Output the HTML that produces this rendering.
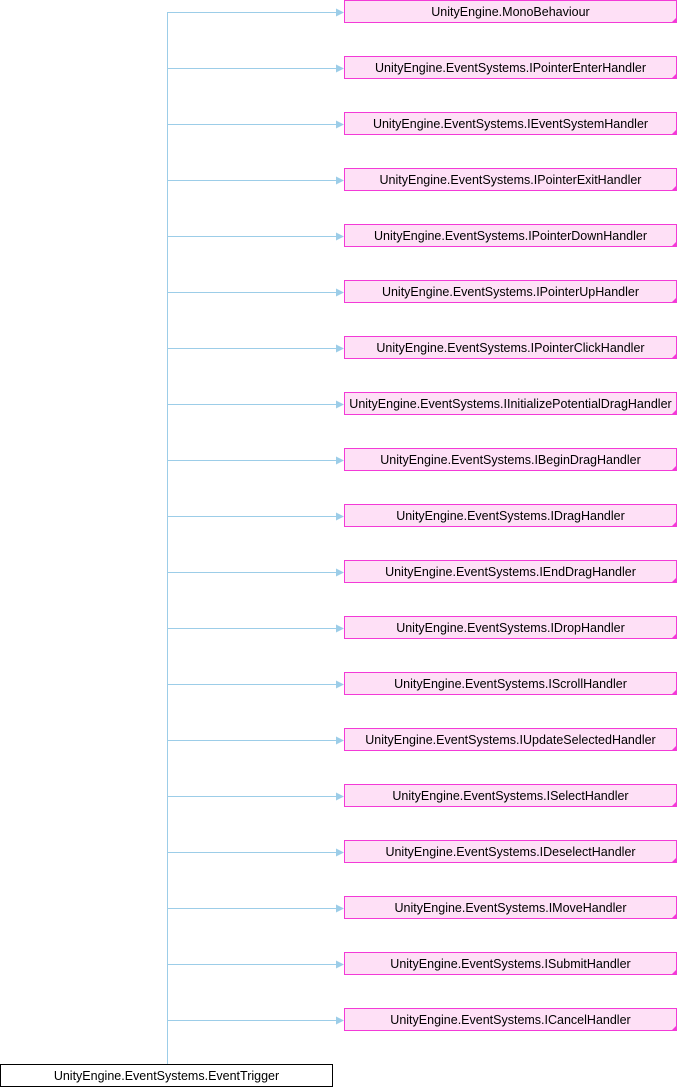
<!DOCTYPE html>
<html><head><meta charset="utf-8"><style>
html,body{margin:0;padding:0;background:#fff;overflow:hidden;}
svg{display:block;}
svg text{font-family:"Liberation Sans",sans-serif;font-size:12.5px;}
</style></head><body>
<svg width="678" height="1088" xmlns="http://www.w3.org/2000/svg">
<line x1="167.5" y1="12" x2="167.5" y2="1064" stroke="#9ccde8" stroke-width="1"/>
<g id="boxes"></g>
<rect x="0.5" y="1064.5" width="332" height="22" fill="#fff" stroke="#000"/>
<text x="166.5" y="1080" text-anchor="middle">UnityEngine.EventSystems.EventTrigger</text>
</svg>
<script>
var names=["UnityEngine.MonoBehaviour","UnityEngine.EventSystems.IPointerEnterHandler","UnityEngine.EventSystems.IEventSystemHandler","UnityEngine.EventSystems.IPointerExitHandler","UnityEngine.EventSystems.IPointerDownHandler","UnityEngine.EventSystems.IPointerUpHandler","UnityEngine.EventSystems.IPointerClickHandler","UnityEngine.EventSystems.IInitializePotentialDragHandler","UnityEngine.EventSystems.IBeginDragHandler","UnityEngine.EventSystems.IDragHandler","UnityEngine.EventSystems.IEndDragHandler","UnityEngine.EventSystems.IDropHandler","UnityEngine.EventSystems.IScrollHandler","UnityEngine.EventSystems.IUpdateSelectedHandler","UnityEngine.EventSystems.ISelectHandler","UnityEngine.EventSystems.IDeselectHandler","UnityEngine.EventSystems.IMoveHandler","UnityEngine.EventSystems.ISubmitHandler","UnityEngine.EventSystems.ICancelHandler"];
var g=document.getElementById("boxes"),s="";
names.forEach(function(n,i){var t=56*i;
s+='<line x1="167.5" y1="'+(t+12.5)+'" x2="337" y2="'+(t+12.5)+'" stroke="#9ccde8"/>';
s+='<polygon points="336,'+(t+8.5)+' 344,'+(t+12.5)+' 336,'+(t+16.5)+'" fill="#9ccde8"/>';
s+='<rect x="344.5" y="'+(t+0.5)+'" width="332" height="22" fill="#fee0f6" stroke="#f33ad7"/>';
s+='<polygon points="677,'+(t+17)+' 677,'+(t+23)+' 671,'+(t+23)+'" fill="#f33ad7"/>';
s+='<text x="510.5" y="'+(t+16)+'" text-anchor="middle">'+n+'</text>';});
g.innerHTML=s;
</script>
</body></html>
